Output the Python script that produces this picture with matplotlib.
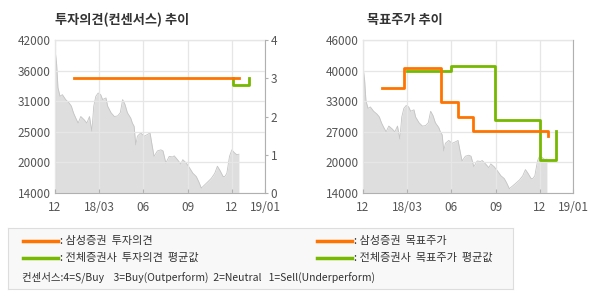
import matplotlib
matplotlib.use("Agg")
import matplotlib.pyplot as plt
from matplotlib.lines import Line2D

plt.rcParams["font.family"] = ["Noto Sans CJK KR", "DejaVu Sans"]

# ── Data (x = months since Dec 2017) ─────────────────────────────────────────
price_x = [0.00, 0.11, 0.20, 0.34, 0.50, 0.72, 0.95, 1.11, 1.25, 1.41, 1.57,
           1.75, 1.98, 2.16, 2.34, 2.50, 2.63, 2.77, 2.93, 3.10, 3.23, 3.46,
           3.57, 3.80, 4.03, 4.25, 4.43, 4.59, 4.75, 4.91, 5.14, 5.25, 5.37,
           5.48, 5.59, 5.82, 6.05, 6.27, 6.45, 6.56, 6.72, 6.95, 7.18, 7.33,
           7.52, 7.75, 7.98, 8.09, 8.31, 8.54, 8.67, 8.90, 9.13, 9.36, 9.48,
           9.59, 9.75, 9.93, 10.16, 10.39, 10.61, 10.84, 11.02, 11.18, 11.41,
           11.52, 11.66, 11.84, 12.00, 12.16, 12.34, 12.48]
price_y = [40300, 37600, 33300, 31700, 32000, 31100, 30500, 29900, 28700,
           27700, 26800, 28000, 27400, 26800, 28000, 25300, 29900, 31700,
           32300, 32000, 31100, 31400, 29900, 28700, 28000, 28100, 28700,
           31100, 30200, 28700, 27700, 26800, 26200, 22800, 24400, 25000,
           24400, 24700, 25000, 23200, 20700, 21700, 21900, 21700, 19500,
           20700, 20600, 20800, 20100, 19300, 20100, 19500, 18600, 17600,
           17300, 17000, 16100, 14900, 15500, 16100, 16700, 17600, 18900,
           18200, 17000, 17000, 17600, 20700, 21900, 21400, 21000, 21100]

# investment opinion (right axis, 1-4)
sam_op_x = [1.29, 12.50]
sam_op_y = [3.0, 3.0]
avg_op_x = [12.05, 12.05, 13.17, 13.17]
avg_op_y = [3.0, 2.83, 2.83, 3.0]

# target price
sam_tp_x = [1.26, 2.78, 5.26, 6.48, 7.47, 12.53, 12.53]
sam_tp_y = [36000, 40200, 33000, 29800, 27000, 27000, 25900]
avg_tp_x = [2.98, 5.94, 8.94, 12.00, 13.10, 13.10]
avg_tp_y = [39500, 40500, 29300, 21000, 21000, 27000]

x_ticks = [0, 3, 6, 9, 12, 14.25]
x_labels = ["12", "18/03", "06", "09", "12", "19/01"]

ORANGE = "#ff7300"
GREEN = "#77b800"
FILL = "#dedede"
EDGE = "#c4c4c4"
GRID = "#e6e6e6"
SPINE = "#b0b0b0"
TXT = "#555555"


def style(ax, lo, hi):
    ax.set_xlim(0, 14.25)
    ax.set_ylim(lo, hi)
    ticks = [lo + (hi - lo) * k / 5 for k in range(6)]
    ax.set_yticks(ticks)
    ax.set_yticklabels([f"{round(t / 1000) * 1000:d}" for t in ticks])
    ax.set_xticks(x_ticks)
    ax.set_xticklabels(x_labels)
    ax.tick_params(colors=TXT, labelsize=8.5, length=0, pad=3)
    ax.tick_params(axis="x", length=3, color=SPINE, direction="in", pad=6)
    for s in ax.spines.values():
        s.set_color(SPINE)
        s.set_linewidth(0.8)
    ax.set_axisbelow(False)
    ax.grid(True, color=GRID, linewidth=0.9, zorder=2)
    ax.fill_between(price_x, price_y, lo, color=FILL, linewidth=0, zorder=1)
    ax.plot(price_x, price_y, color=EDGE, linewidth=0.6, zorder=1.5)


fig = plt.figure(figsize=(5.9, 3.0), dpi=100)

# left: 투자의견
ax1 = fig.add_axes([55 / 590, 1 - 193 / 300, 210 / 590, 153 / 300])
style(ax1, 14000, 42000)
ax1r = ax1.twinx()
ax1r.set_ylim(0, 4)
ax1r.set_yticks([0, 1, 2, 3, 4])
ax1r.tick_params(colors=TXT, labelsize=8.5, length=2, color=SPINE, pad=2)
for s in ax1r.spines.values():
    s.set_visible(False)
ax1r.plot(sam_op_x, sam_op_y, color=ORANGE, linewidth=2, zorder=4)
ax1r.plot(avg_op_x, avg_op_y, color=GREEN, linewidth=2, zorder=3)
fig.text(55 / 590, 1 - 20 / 300, "투자의견(컨센서스) 추이", fontsize=9.5,
         fontweight="bold", color="#333333", va="center")

# right: 목표주가
ax2 = fig.add_axes([363 / 590, 1 - 193 / 300, 210 / 590, 153 / 300])
style(ax2, 14000, 46000)
ax2.plot(sam_tp_x, sam_tp_y, color=ORANGE, linewidth=2, drawstyle="steps-post", zorder=4)
ax2.plot(avg_tp_x, avg_tp_y, color=GREEN, linewidth=2, drawstyle="steps-post", zorder=3)
fig.text(367 / 590, 1 - 20 / 300, "목표주가 추이", fontsize=9.5,
         fontweight="bold", color="#333333", va="center")

# legend box
box = fig.add_axes([8 / 590, 1 - 289 / 300, 505 / 590, 61 / 300])
box.set_xlim(0, 505)
box.set_ylim(61, 0)
box.set_xticks([])
box.set_yticks([])
box.set_facecolor("#f8f8f8")
for s in box.spines.values():
    s.set_color("#dddddd")

entries = [
    (15, 13, ORANGE, ": 삼성증권  투자의견"),
    (15, 30, GREEN, ": 전체증권사  투자의견  평균값"),
    (309, 13, ORANGE, ": 삼성증권  목표주가"),
    (309, 30, GREEN, ": 전체증권사  목표주가  평균값"),
]
for x0, y0, c, label in entries:
    box.add_line(Line2D([x0, x0 + 35], [y0, y0], color=c, linewidth=2.5))
    box.text(x0 + 37, y0, label, fontsize=8, color="#333333", va="center")
box.text(14, 49, "컨센서스:4=S/Buy    3=Buy(Outperform)  2=Neutral   1=Sell(Underperform)",
         fontsize=7.5, color="#333333", va="center")

fig.savefig("out.png", dpi=100)
